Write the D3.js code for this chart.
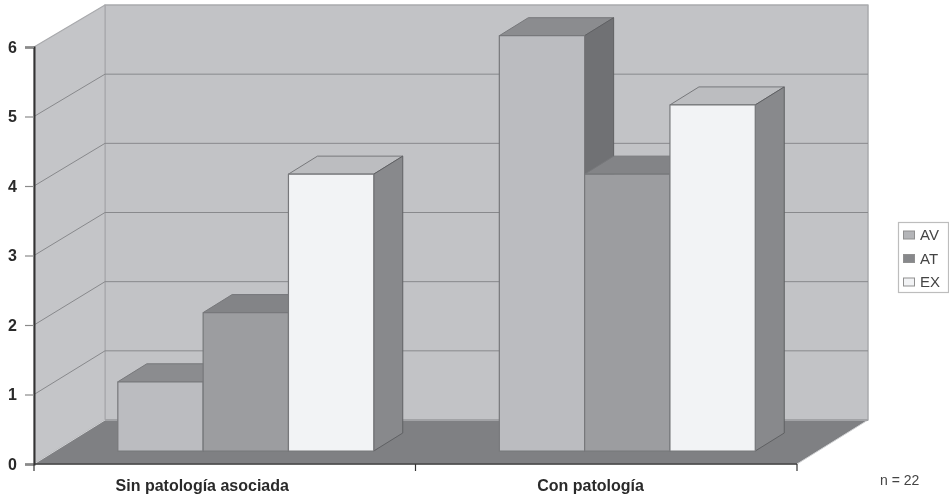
<!DOCTYPE html>
<html><head><meta charset="utf-8">
<script src="https://cdn.jsdelivr.net/npm/d3@7"></script>
<style>html,body{margin:0;padding:0;background:#fff}svg{display:block;filter:blur(0.4px)}text{font-family:"Liberation Sans",Arial,sans-serif}</style>
</head><body><svg id="c" width="949" height="500"></svg>
<script>
const categories = ["Sin patología asociada", "Con patología"];
const seriesNames = ["AV", "AT", "EX"];
const valuesAV = [1, 6];
const valuesAT = [2, 4];
const valuesEX = [4, 5];
const yTicks = [0, 1, 2, 3, 4, 5, 6];
const noteText = "n = 22";

const seriesValues = [valuesAV, valuesAT, valuesEX];
const frontFill = ["#bbbcc0", "#9c9da0", "#f2f3f5"];
const topFill = ["#8b8c8f", "#838487", "#bcbdc0"];
const sideFill = ["#707174", "#77787b", "#88898c"];
const legendFill = ["#b4b5b8", "#87888b", "#f2f3f5"];
const labelShift = [-22.5, -15.7];

const svg = d3.select("#c");
const x0 = d3.scaleBand().domain(categories).range([34, 797]);
const y = d3.scaleLinear().domain([0, 6]).range([464, 47]);
const yBack = d3.scaleLinear().domain([0, 6]).range([420, 5]);
const yBar = d3.scaleLinear().domain([0, 6]).range([451, 35.7]);
const wallDx = 71, barDx = 22.8, barDepthDx = 29, barDepthDy = -18;
const x1 = d3.scaleBand().domain(seriesNames).range([0, x0.bandwidth()]).paddingInner(0).paddingOuter(0.736).align(0.486);
const line = d3.line();
const poly = (g, pts, fill, stroke, w) => g.append("path").attr("d", line(pts) + "Z").attr("fill", fill).attr("stroke", stroke || "none").attr("stroke-width", w || 0).attr("stroke-linejoin", "round");

const xL = x0.range()[0], xR = x0.range()[1];
const bxL = xL + wallDx, bxR = xR + wallDx;
const walls = svg.append("g");
poly(walls, [[bxL, yBack(0)], [bxR, yBack(0)], [bxR, yBack(6)], [bxL, yBack(6)]], "#c2c3c6", "#a9aaad", 1.5);
poly(walls, [[xL, y(0)], [bxL, yBack(0)], [bxL, yBack(6)], [xL, y(6)]], "#c4c5c8", "#a9aaad", 1.2);
poly(walls, [[xL, y(0)], [xR, y(0)], [bxR, yBack(0)], [bxL, yBack(0)]], "#7f8083", "#d0d1d3", 1);

const grid = svg.append("g");
yTicks.filter(d => d > 0 && d < 6).forEach(d => {
  grid.append("path").attr("d", line([[xL, y(d)], [bxL, yBack(d)], [bxR, yBack(d)]])).attr("fill", "none").attr("stroke", "#88898c").attr("stroke-width", 1);
});
grid.append("path").attr("d", line([[bxL, yBack(0)], [bxR, yBack(0)]])).attr("fill", "none").attr("stroke", "#a2a3a6").attr("stroke-width", 2);

const bars = svg.append("g");
categories.forEach((c, ci) => {
  seriesNames.forEach((s, si) => {
    const v = seriesValues[si][ci];
    const a = x0(c) + x1(s) + barDx, b = a + x1.bandwidth();
    const yv = yBar(v), y0 = yBar(0);
    const g = bars.append("g");
    poly(g, [[a, yv], [b, yv], [b + barDepthDx, yv + barDepthDy], [a + barDepthDx, yv + barDepthDy]], topFill[si], "#77787b", 1);
    poly(g, [[b, y0], [b + barDepthDx, y0 + barDepthDy], [b + barDepthDx, yv + barDepthDy], [b, yv]], sideFill[si], "#5f6063", 1);
    poly(g, [[a, y0], [b, y0], [b, yv], [a, yv]], frontFill[si], "#77787b", 1.2);
  });
});

const yAxis = svg.append("g").attr("transform", `translate(${xL},0)`)
  .call(d3.axisLeft(y).tickValues(yTicks).tickFormat(d3.format("d")).tickSize(9).tickPadding(8));
yAxis.select(".domain").attr("stroke", "#333").attr("stroke-width", 2);
yAxis.selectAll(".tick line").attr("stroke", "#8a8a8a").attr("stroke-width", 1.2);
yAxis.selectAll("text").attr("font-size", 16).attr("font-weight", "bold").attr("fill", "#2a2a2a").style("font-family", '"Liberation Sans",Arial,sans-serif');

const xAxisG = svg.append("g");
xAxisG.append("line").attr("x1", xL).attr("x2", xR).attr("y1", y(0)).attr("y2", y(0)).attr("stroke", "#3a3a3a").attr("stroke-width", 1.5);
const edges = categories.map(c => x0(c)).concat([xR]);
xAxisG.selectAll("line.t").data(edges).join("line").attr("class", "t").attr("x1", d => d).attr("x2", d => d).attr("y1", y(0)).attr("y2", y(0) + 7).attr("stroke", "#333").attr("stroke-width", 1.2);
xAxisG.selectAll("text").data(categories).join("text")
  .attr("x", (d, i) => x0(d) + x0.bandwidth() / 2 + labelShift[i]).attr("y", 491).attr("text-anchor", "middle")
  .attr("font-size", 16).attr("font-weight", "bold").attr("fill", "#2a2a2a").text(d => d);

const lg = svg.append("g");
lg.append("rect").attr("x", 898.5).attr("y", 222.5).attr("width", 50).attr("height", 70).attr("fill", "#fff").attr("stroke", "#bdbdbd").attr("stroke-width", 1.2);
const ly = d3.scalePoint().domain(seriesNames).range([235, 282]);
seriesNames.forEach((s, i) => {
  lg.append("rect").attr("x", 903.5).attr("y", ly(s) - 4).attr("width", 11).attr("height", 8).attr("fill", legendFill[i]).attr("stroke", "#909090");
  lg.append("text").attr("x", 920).attr("y", ly(s) + 5).attr("font-size", 15).attr("fill", "#444").text(s);
});
svg.append("text").attr("x", 880).attr("y", 485).attr("font-size", 14).attr("fill", "#444").text(noteText);
</script></body></html>
